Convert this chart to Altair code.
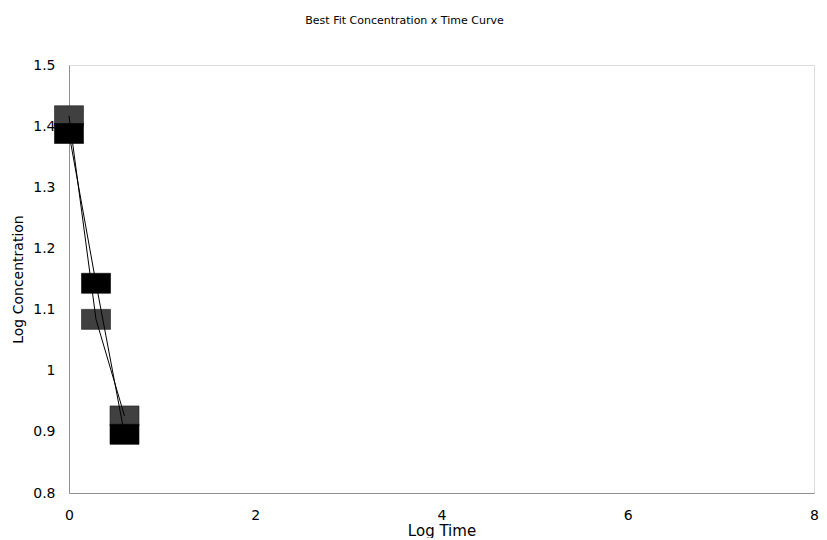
import altair as alt
import pandas as pd

log_time = [0.0, 0.29, 0.596]
series_a = [1.417, 1.084, 0.926]   # dark grey squares
series_b = [1.388, 1.143, 0.896]   # black squares
series_names = ["A", "B"]
series_colors = ["#404040", "#000000"]

rows = []
for name, vals in zip(series_names, [series_a, series_b]):
    for i, (t, c) in enumerate(zip(log_time, vals)):
        rows.append({"series": name, "t": t, "c": c, "order": i})
df = pd.DataFrame(rows)

FONT = "DejaVu Sans"

x = alt.X("t:Q", scale=alt.Scale(domain=[0, 8], nice=False, zero=False),
          axis=alt.Axis(title="Log Time", values=[0, 2, 4, 6, 8], ticks=False, grid=False,
                        labelPadding=15, titlePadding=1, labelFontSize=14, titleFontSize=15,
                        titleFontWeight="normal", labelFont=FONT, titleFont=FONT,
                        labelColor="black", titleColor="black", domainColor="#909090",
                        labelFlush=False))
y = alt.Y("c:Q", scale=alt.Scale(domain=[0.8, 1.5], nice=False, zero=False),
          axis=alt.Axis(title="Log Concentration", values=[0.8, 0.9, 1.0, 1.1, 1.2, 1.3, 1.4, 1.5],
                        format="~g", ticks=False, grid=False, labelPadding=14, titlePadding=7,
                        labelFontSize=14, titleFontSize=14, titleFontWeight="normal",
                        labelFont=FONT, titleFont=FONT, labelColor="black", titleColor="black",
                        domainColor="#909090", labelFlush=False))

color = alt.Color("series:N", scale=alt.Scale(domain=series_names, range=series_colors), legend=None)

rect_shape = "M-1.45,-1H1.45V1H-1.45Z"

pts_a = alt.Chart(df).transform_filter(alt.datum.series == "A").mark_point(
    shape=rect_shape, filled=True, size=400, opacity=1, stroke="#202020", strokeWidth=0.6
).encode(x=x, y=y, color=color)

pts_b = alt.Chart(df).transform_filter(alt.datum.series == "B").mark_point(
    shape=rect_shape, filled=True, size=400, opacity=1, stroke="#000000", strokeWidth=0.6
).encode(x=x, y=y, color=color)

lines = alt.Chart(df).mark_line(color="black", strokeWidth=1).encode(
    x=x, y=y, detail="series:N", order="order:Q"
)

chart = alt.layer(pts_a, pts_b, lines).properties(
    width=745, height=428,
    title=alt.TitleParams("Best Fit Concentration x Time Curve", fontSize=11, font=FONT,
                          fontWeight="normal", color="black", anchor="middle", frame="group",
                          offset=23, baseline="alphabetic", dx=-37),
    autosize=alt.AutoSizeParams(type="none"),
    padding={"left": 61, "top": 57, "right": 5, "bottom": 45},
).configure_view(stroke="#909090", strokeWidth=1.5).configure(background="white")

chart.save("out.html", embed_options={"renderer": "svg", "actions": False})
